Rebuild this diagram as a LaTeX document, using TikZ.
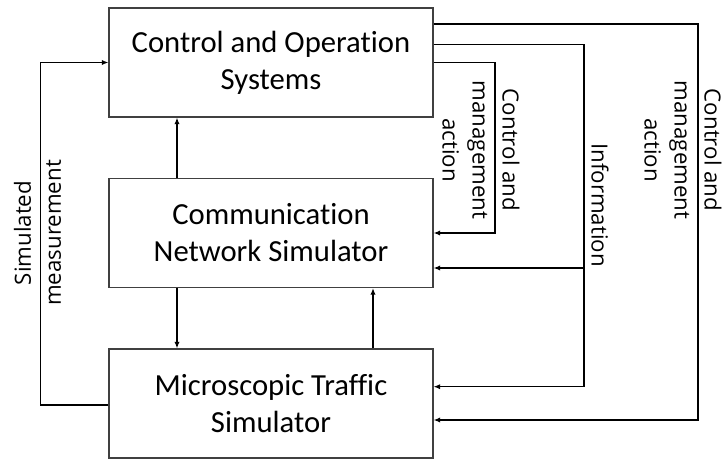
\documentclass[tikz,border=0pt]{standalone}
\usepackage{fontspec}
\usepackage{tikz}
\usetikzlibrary{arrows.meta}
\setmainfont{Carlito}[Ligatures=NoCommon]
\newfontfamily\labelfont{Open Sans}

\begin{document}
\begin{tikzpicture}[x=0.75pt, y=-0.75pt,
  box/.style = {shape=rectangle, draw=black!75, line width=0.8pt,
    minimum width=243pt, minimum height=81.75pt, align=center,
    font=\fontsize{23}{27.75}\selectfont},
  link/.style = {line width=1.1pt, -{Latex[length=5pt,width=4pt]}},
  lbl/.style = {align=center, inner sep=0pt,
    font=\labelfont\fontsize{16.7}{22.5}\selectfont}]
  \useasboundingbox (0,0) rectangle (723,459);
  % the three blocks
  \node[box] (cos) at (271,62.5) {Control and Operation\\Systems};
  \node[box] (cns) at (271,233) {Communication\\Network Simulator};
  \node[box] (mts) at (271,403.5) {Microscopic Traffic\\Simulator};
  % turning points
  \coordinate (xl) at (177,0);
  \coordinate (xr) at (373,0);
  \coordinate (sm) at (40.7,405);
  \coordinate (cma) at (495,233);
  \coordinate (inf) at (584,44.3);
  \coordinate (infm) at (584,268);
  \coordinate (infb) at (584,386.7);
  \coordinate (out) at (698,24);
  \coordinate (outb) at (698,420);
  % links
  \draw[link] (cns.north -| xl) -- (cos.south -| xl);
  \draw[link] (cns.south -| xl) -- (mts.north -| xl);
  \draw[link] (mts.north -| xr) -- (cns.south -| xr);
  \draw[link] (mts.west |- sm) -- (sm) |- (cos.west);
  \draw[link] (cos.east) -| (cma) -- (cns.east);
  \draw[link] (cos.east |- inf) -- (inf) -- (infb) -- (mts.east |- infb);
  \draw[link] (infm) -- (cns.east |- infm);
  \draw[link] (cos.east |- out) -- (out) -- (outb) -- (mts.east |- outb);
  % labels
  \node[lbl, rotate=90] (meas) at (37.5,233) {Simulated\\measurement};
  \node[lbl, rotate=-90] (act1) at (481,150) {Control and\\management\\action};
  \node[lbl, rotate=-90] (info) at (600,205) {Information};
  \node[lbl, rotate=-90] (act2) at (683,150) {Control and\\management\\action};
\end{tikzpicture}
\end{document}
